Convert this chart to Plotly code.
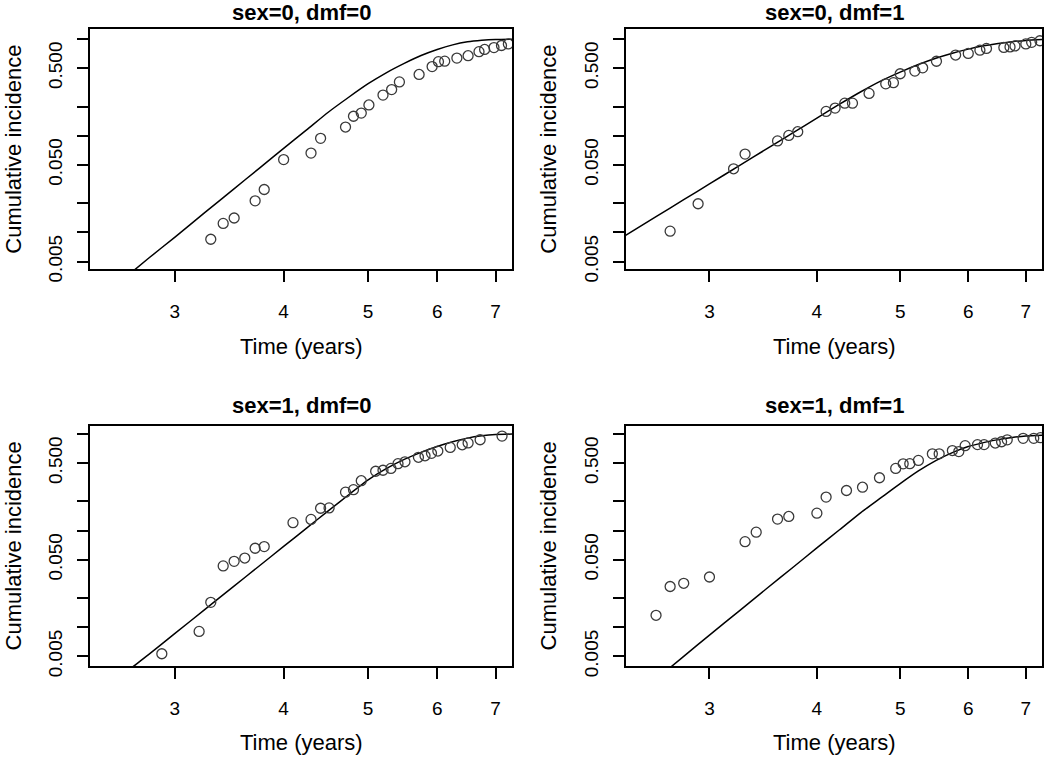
import math
import plotly.graph_objects as go

W, H = 1050, 767

# ---------------- data ----------------
panel_titles = ["sex=0, dmf=0", "sex=0, dmf=1", "sex=1, dmf=0", "sex=1, dmf=1"]
x_title = "Time (years)"
y_title = "Cumulative incidence"
x_tickvals = [3, 4, 5, 6, 7]
y_tickvals = [0.005, 0.01, 0.02, 0.05, 0.1, 0.2, 0.5, 1.0]
y_ticktext = ["0.005", "", "", "0.050", "", "", "0.500", ""]

# fitted curve at these times
fit_t = [2.35, 2.6, 2.8, 3.0, 3.25, 3.5, 3.75, 4.0, 4.25, 4.5, 4.75,
         5.0, 5.25, 5.5, 5.75, 6.0, 6.25, 6.5, 6.75, 7.0, 7.4]
fit_s0d0 = [0.00146, 0.0031, 0.0054, 0.0089, 0.0161, 0.0277, 0.046, 0.074, 0.115,
            0.175, 0.25, 0.345, 0.45, 0.56, 0.675, 0.78, 0.87, 0.935, 0.97, 0.99, 0.999]
fit_s0d1 = [0.00838, 0.01454, 0.0218, 0.0317, 0.0491, 0.0735, 0.1069, 0.1522, 0.2117,
            0.285, 0.369, 0.455, 0.545, 0.632, 0.713, 0.786, 0.850, 0.901, 0.939, 0.967, 0.994]
fit_s1d0 = [0.00146, 0.0031, 0.0052, 0.0086, 0.0153, 0.0262, 0.043, 0.0686, 0.106,
            0.160, 0.235, 0.335, 0.44, 0.545, 0.645, 0.74, 0.83, 0.905, 0.955, 0.985, 0.999]
fit_s1d1 = [0.0014, 0.0029, 0.005, 0.0083, 0.0148, 0.0253, 0.0415, 0.0663, 0.102,
            0.1537, 0.219, 0.306, 0.414, 0.53, 0.641, 0.74, 0.813, 0.873, 0.917, 0.949, 0.97]

# observed cumulative incidence (open circles)
obs_s0d0_t = [3.30, 3.41, 3.51, 3.71, 3.80, 4.00, 4.30, 4.41, 4.71, 4.81, 4.91, 5.01, 5.20,
              5.32, 5.43, 5.72, 5.92, 6.02, 6.12, 6.32, 6.51, 6.70, 6.80, 6.97, 7.11, 7.24]
obs_s0d0_ci = [0.0085, 0.0124, 0.0141, 0.0212, 0.0278, 0.0567, 0.0661, 0.094, 0.123, 0.159,
               0.1715, 0.208, 0.263, 0.300, 0.360, 0.430, 0.519, 0.583, 0.590, 0.635, 0.672,
               0.740, 0.780, 0.815, 0.857, 0.889]

obs_s0d1_t = [2.70, 2.91, 3.20, 3.30, 3.60, 3.71, 3.80, 4.10, 4.20, 4.31, 4.40, 4.60, 4.81, 4.91,
              5.00, 5.20, 5.31, 5.51, 5.80, 6.00, 6.19, 6.30, 6.60, 6.71, 6.80, 7.00, 7.11, 7.27]
obs_s0d1_ci = [0.0103, 0.0198, 0.0455, 0.0646, 0.0884, 0.1008, 0.110, 0.1785, 0.193, 0.217,
               0.217, 0.274, 0.344, 0.354, 0.4375, 0.466, 0.504, 0.589, 0.683, 0.710, 0.767,
               0.799, 0.818, 0.829, 0.849, 0.889, 0.925, 0.960]

obs_s1d0_t = [2.90, 3.20, 3.30, 3.41, 3.51, 3.61, 3.71, 3.80, 4.10, 4.30, 4.41, 4.51, 4.71, 4.81,
              4.91, 5.10, 5.20, 5.31, 5.41, 5.51, 5.71, 5.81, 5.91, 6.01, 6.21, 6.41, 6.51, 6.72, 7.12]
obs_s1d0_ci = [0.00532, 0.00906, 0.0181, 0.0431, 0.0481, 0.052, 0.0657, 0.0683, 0.1208, 0.1306,
               0.1703, 0.1716, 0.2496, 0.265, 0.328, 0.411, 0.421, 0.440, 0.492, 0.515, 0.573,
               0.594, 0.630, 0.665, 0.725, 0.772, 0.807, 0.870, 0.950]

obs_s1d1_t = [2.60, 2.70, 2.80, 3.00, 3.30, 3.40, 3.60, 3.71, 4.00, 4.10, 4.33, 4.52, 4.73, 4.94,
              5.04, 5.13, 5.25, 5.45, 5.55, 5.75, 5.85, 5.95, 6.15, 6.26, 6.45, 6.56, 6.66,
              6.95, 7.15, 7.28]
obs_s1d1_ci = [0.0133, 0.0264, 0.0285, 0.0331, 0.0768, 0.0963, 0.1316, 0.140, 0.1515, 0.222,
               0.260, 0.281, 0.352, 0.440, 0.490, 0.492, 0.532, 0.622, 0.622, 0.673, 0.657,
               0.756, 0.775, 0.775, 0.805, 0.830, 0.868, 0.900, 0.900, 0.915]

panels = [
    (obs_s0d0_t, obs_s0d0_ci, fit_s0d0),
    (obs_s0d1_t, obs_s0d1_ci, fit_s0d1),
    (obs_s1d0_t, obs_s1d0_ci, fit_s1d0),
    (obs_s1d1_t, obs_s1d1_ci, fit_s1d1),
]

# ---------------- layout (pixel boxes) ----------------
boxes = [  # (left, right, top, bottom) in pixels
    (90, 512, 30, 274),
    (626, 1042, 30, 274),
    (90, 512, 433.3, 677.7),
    (626, 1042, 433.3, 677.7),
]
x_range = [math.log10(2.399), math.log10(7.31)]
y_ranges = [[-2.382, 0.0986], [-2.382, 0.0986], [-2.403, 0.0824], [-2.403, 0.0824]]

FONT = "Liberation Sans, Arial, Helvetica, sans-serif"
fig = go.Figure()


def px(x):
    return x / W


def py(y):
    return 1 - y / H


annotations = []
for i, ((t, ci, fit), (l, r, tp, bt)) in enumerate(zip(panels, boxes)):
    k = "" if i == 0 else str(i + 1)
    xa, ya = "x" + k, "y" + k
    fig.add_trace(go.Scatter(x=fit_t, y=fit, mode="lines", xaxis=xa, yaxis=ya,
                             line=dict(color="black", width=1.5, shape="spline", smoothing=0.6),
                             showlegend=False, hoverinfo="skip"))
    fig.add_trace(go.Scatter(x=t, y=ci, mode="markers", xaxis=xa, yaxis=ya,
                             marker=dict(symbol="circle-open", size=10, color="#3a3a3a",
                                         line=dict(width=1.3, color="#3a3a3a")),
                             showlegend=False))
    axis_common = dict(showgrid=False, zeroline=False, showline=True, linecolor="black",
                       linewidth=1.5, mirror=True, ticks="outside", ticklen=11, tickwidth=1.5,
                       tickcolor="black", tickfont=dict(family=FONT, size=19, color="black"))
    fig.update_layout(**{
        "xaxis" + k: dict(axis_common, type="log", range=x_range, domain=[px(l), px(r)],
                          anchor=ya, tickvals=x_tickvals, ticktext=[str(v) for v in x_tickvals],
                          ticklabelstandoff=13),
        "yaxis" + k: dict(axis_common, type="log", range=y_ranges[i], domain=[py(bt), py(tp)],
                          anchor=xa, tickvals=y_tickvals, ticktext=y_ticktext, tickangle=-90,
                          ticklabelstandoff=8),
    })
    cx = (l + r) / 2
    title_y = 13 if i < 2 else 412.3
    xt_y = 352 if i < 2 else 755.7
    yt_x = 13.3 if i % 2 == 0 else 548.3
    annotations.append(dict(text="<b>%s</b>" % panel_titles[i], x=px(cx), y=py(title_y),
                            xref="paper", yref="paper", showarrow=False, xanchor="center",
                            yanchor="middle", font=dict(family=FONT, size=22, color="black")))
    annotations.append(dict(text=x_title, x=px(cx), y=py(xt_y), xref="paper", yref="paper",
                            showarrow=False, xanchor="center", yanchor="middle",
                            font=dict(family=FONT, size=22, color="black")))
    annotations.append(dict(text=y_title, x=px(yt_x), y=py((tp + bt) / 2), xref="paper",
                            yref="paper", showarrow=False, xanchor="center", yanchor="middle",
                            textangle=-90, font=dict(family=FONT, size=22, color="black")))

fig.update_layout(width=W, height=H, margin=dict(l=0, r=0, t=0, b=0),
                  paper_bgcolor="white", plot_bgcolor="white", annotations=annotations,
                  showlegend=False)

fig.write_html("out.html", config={"displayModeBar": False},
               post_script="document.body.style.margin='0px';document.body.style.padding='0px';")
